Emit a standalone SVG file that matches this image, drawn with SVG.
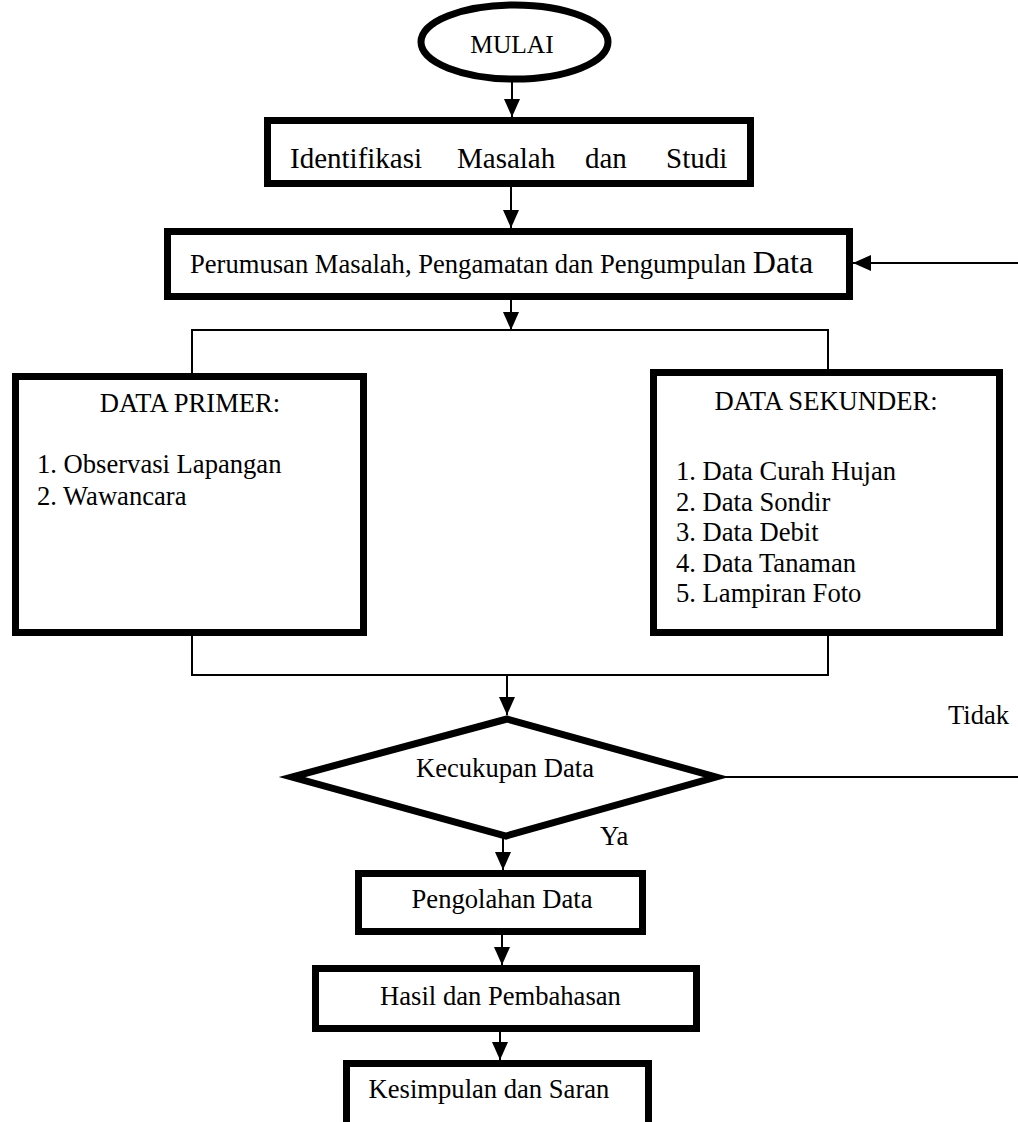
<svg xmlns="http://www.w3.org/2000/svg" width="1018" height="1122" viewBox="0 0 1018 1122">
<defs>
<marker id="arr" markerUnits="userSpaceOnUse" markerWidth="18" markerHeight="16" refX="18" refY="8" orient="auto">
<path d="M0,0 L18,8 L0,16 z" fill="#000"/>
</marker>
<style>
.box{fill:#fff;stroke:#000;stroke-width:7}
.con{fill:none;stroke:#000;stroke-width:2}
text{font-family:"Liberation Serif","Times New Roman",serif;fill:#000}
.c{text-anchor:middle}
</style>
</defs>
<rect width="1018" height="1122" fill="#fff"/>
<g id="connectors">
<line class="con" x1="512" y1="79" x2="512" y2="117" marker-end="url(#arr)"/>
<line class="con" x1="511" y1="187" x2="511" y2="228" marker-end="url(#arr)"/>
<line class="con" x1="511" y1="300" x2="511" y2="330" marker-end="url(#arr)"/>
<polyline class="con" points="192,373 192,330 828,330 828,369"/>
<polyline class="con" points="192,636 192,675 828,675 828,636"/>
<line class="con" x1="507" y1="675" x2="507" y2="715" marker-end="url(#arr)"/>
<line class="con" x1="722" y1="777" x2="1018" y2="777"/>
<line class="con" x1="1018" y1="263" x2="853" y2="263" marker-end="url(#arr)"/>
<line class="con" x1="503" y1="838" x2="503" y2="870" marker-end="url(#arr)"/>
<line class="con" x1="502" y1="935" x2="502" y2="965" marker-end="url(#arr)"/>
<line class="con" x1="500" y1="1032" x2="500" y2="1060" marker-end="url(#arr)"/>
</g>
<g font-size="26.6">
<g id="mulai">
<ellipse class="box" cx="514.5" cy="42" rx="93.5" ry="37" stroke-width="6"/>
<text class="c" x="512" y="53" font-size="25.5">MULAI</text>
</g>
<g id="identifikasi">
<rect class="box" x="267.5" y="120.5" width="483" height="63"/>
<text y="168" font-size="29"><tspan x="290">Identifikasi</tspan><tspan x="457">Masalah</tspan><tspan x="585">dan</tspan><tspan x="666">Studi</tspan></text>
</g>
<g id="perumusan">
<rect class="box" x="167.5" y="231.5" width="682" height="65"/>
<text x="190" y="273">Perumusan Masalah, Pengamatan dan Pengumpulan <tspan font-size="32">Data</tspan></text>
</g>
<g id="data-primer">
<rect class="box" x="15.5" y="376.5" width="348" height="256"/>
<text class="c" x="190" y="412">DATA PRIMER:</text>
<text x="37" y="473">1. Observasi Lapangan</text>
<text x="37" y="505">2. Wawancara</text>
</g>
<g id="data-sekunder">
<rect class="box" x="653.5" y="372.5" width="346" height="260"/>
<text class="c" x="826" y="410">DATA SEKUNDER:</text>
<text x="676" y="480">1. Data Curah Hujan</text>
<text x="676" y="510.5">2. Data Sondir</text>
<text x="676" y="541">3. Data Debit</text>
<text x="676" y="572">4. Data Tanaman</text>
<text x="676" y="602">5. Lampiran Foto</text>
</g>
<g id="kecukupan">
<polygon class="box" points="507,719 292,777 506,836 716,777"/>
<text class="c" x="505" y="777">Kecukupan Data</text>
</g>
<g id="labels">
<text x="948" y="724">Tidak</text>
<text x="600" y="845">Ya</text>
</g>
<g id="pengolahan">
<rect class="box" x="358.5" y="873.5" width="284" height="58"/>
<text class="c" x="502" y="908">Pengolahan Data</text>
</g>
<g id="hasil">
<rect class="box" x="315.5" y="968.5" width="381" height="60"/>
<text class="c" x="500.5" y="1005">Hasil dan Pembahasan</text>
</g>
<g id="kesimpulan">
<rect class="box" x="346.5" y="1063.5" width="302" height="70"/>
<text class="c" x="489" y="1098">Kesimpulan dan Saran</text>
</g>
</g>
</svg>
